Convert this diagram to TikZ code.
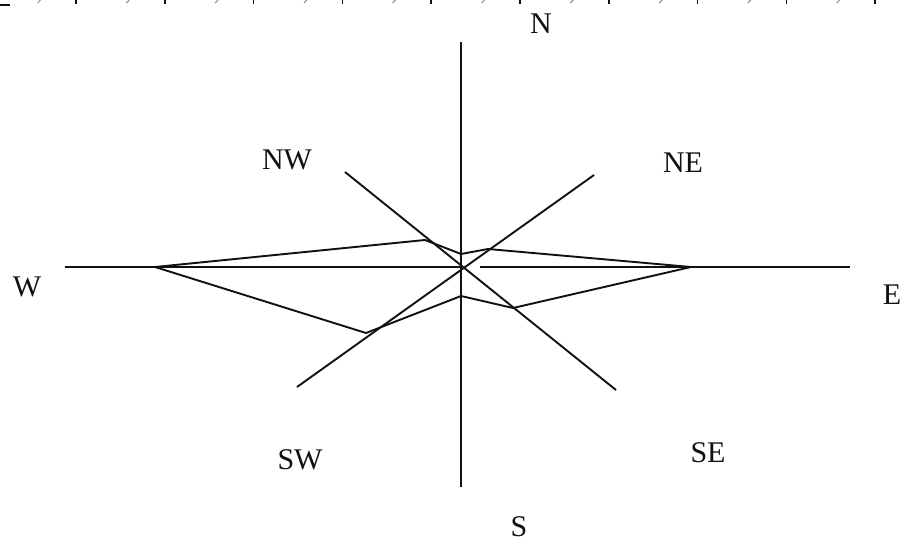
\documentclass[tikz,border=0pt]{standalone}
\usepackage{fontspec}
\setmainfont{Liberation Serif}
\definecolor{ink}{HTML}{111111}
\definecolor{faint}{HTML}{8C8C8C}
\definecolor{paper}{HTML}{FFFFFF}

\begin{document}
\begin{tikzpicture}[x=1pt, y=-1pt,
  axis/.style={draw=ink, line width=1.9pt},
  rose/.style={draw=ink, line width=1.9pt},
  dirlbl/.style={font=\fontsize{30}{36}\selectfont, text=ink, inner sep=0pt},
  tickmark/.style={draw=ink, line width=1.7pt},
  slashmark/.style={draw=faint, line width=1pt},
]
\fill[paper] (0,0) rectangle (904,551);
\useasboundingbox (0,0) rectangle (904,551);
\draw[tickmark] (0,5) -- (10,5);
\draw[tickmark] (76,0) -- (76,4.5) (164.8,0) -- (164.8,4.5) (253.6,0) -- (253.6,4.5) (342.4,0) -- (342.4,4.5) (431.2,0) -- (431.2,4.5);
\draw[tickmark] (520,0) -- (520,4.5) (608.8,0) -- (608.8,4.5) (697.6,0) -- (697.6,4.5) (786.4,0) -- (786.4,4.5) (875.2,0) -- (875.2,4.5);
\draw[slashmark] (37.5,3) -- (40.5,0) (126.3,3) -- (129.3,0) (215.1,3) -- (218.1,0) (303.9,3) -- (306.9,0) (392.7,3) -- (395.7,0);
\draw[slashmark] (481.5,3) -- (484.5,0) (570.3,3) -- (573.3,0) (659.1,3) -- (662.1,0) (747.9,3) -- (750.9,0) (836.7,3) -- (839.7,0);
\coordinate (o) at (461,267);
\coordinate (ntop) at (461,42);
\coordinate (sbot) at (461,487);
\coordinate (wend) at (65,267);
\coordinate (egap) at (480,267);
\coordinate (eend) at (850,267);
\coordinate (nwend) at (345,172);
\coordinate (seend) at (616,390);
\coordinate (neend) at (594,175);
\coordinate (swend) at (297,387);
\draw[axis] (ntop) -- (sbot);
\draw[axis] (wend) -- (o);
\draw[axis] (egap) -- (eend);
\draw[axis] (nwend) -- (seend);
\draw[axis] (neend) -- (swend);
\coordinate (rw) at (155,267);
\coordinate (rnw) at (425,240);
\coordinate (rn) at (461,254);
\coordinate (rne) at (488,249);
\coordinate (re) at (691,267);
\coordinate (rse) at (513,308);
\coordinate (rs) at (461,296);
\coordinate (rsw) at (366,333);
\draw[rose] (rw) -- (rnw) -- (rn) -- (rne) -- (re) -- (rse) -- (rs) -- (rsw) -- cycle;
\node[dirlbl] (lbln) at (541,24) {N};
\node[dirlbl] (lblnw) at (287,160) {NW};
\node[dirlbl] (lblne) at (683,163) {NE};
\node[dirlbl] (lblw) at (27,287) {W};
\node[dirlbl] (lble) at (892,295) {E};
\node[dirlbl] (lblsw) at (300,460) {SW};
\node[dirlbl] (lblse) at (708,453) {SE};
\node[dirlbl] (lbls) at (519,527) {S};
\end{tikzpicture}
\end{document}
